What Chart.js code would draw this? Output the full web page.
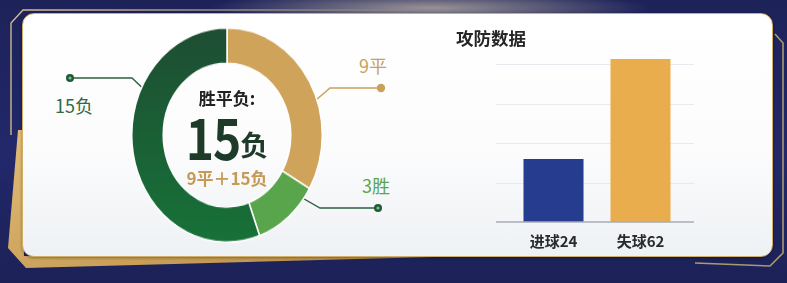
<!DOCTYPE html>
<html>
<head>
<meta charset="utf-8">
<script src="https://cdn.jsdelivr.net/npm/chart.js@4.4.0/dist/chart.umd.min.js"></script>
<style>
  html, body { margin: 0; padding: 0; }
  body {
    width: 787px; height: 283px; overflow: hidden; position: relative;
    background: radial-gradient(ellipse 220px 18px at 430px 8px, rgba(255,240,200,0.55), rgba(255,240,200,0) 100%),
                linear-gradient(180deg, #1d2259 0%, #22286a 55%, #1c2157 100%);
    font-family: "Noto Sans CJK SC", "Noto Sans", sans-serif;
  }
  .abs { position: absolute; }
  #deco { position: absolute; left: 0; top: 0; }
  .card {
    left: 22px; top: 13px; width: 749px; height: 242px;
    border: 1.5px solid #cfae6a; border-radius: 12px;
    background: linear-gradient(180deg, #ffffff 0%, #fcfcfd 55%, #eef1f4 100%);
    box-shadow: 0 1px 3px rgba(0,0,0,0.35);
  }
  #donutWrap { left: 131px; top: 39px; width: 192px; height: 192px; transform: scaleY(1.125); transform-origin: 50% 50%; }
  #barWrap { left: 496px; top: 30px; width: 198px; height: 222px; }
  .lbl { font-size: 18px; line-height: 18px; white-space: nowrap; }
  .center { width: 120px; left: 167px; text-align: center; white-space: nowrap; }
</style>
</head>
<body>
<svg id="deco" width="787" height="283">
  <defs>
    <linearGradient id="goldFill" x1="0" y1="0" x2="1" y2="1">
      <stop offset="0" stop-color="#e2bd76"/>
      <stop offset="1" stop-color="#b98c47"/>
    </linearGradient>
    <linearGradient id="sep" x1="0" y1="0" x2="0" y2="1">
      <stop offset="0" stop-color="#c9a45c" stop-opacity="0"/>
      <stop offset="0.5" stop-color="#c9a45c" stop-opacity="1"/>
      <stop offset="1" stop-color="#c9a45c" stop-opacity="0"/>
    </linearGradient>
    <linearGradient id="topLine" x1="0" y1="0" x2="1" y2="0">
      <stop offset="0" stop-color="#d8c190" stop-opacity="1"/>
      <stop offset="0.6" stop-color="#d8c190" stop-opacity="0.6"/>
      <stop offset="1" stop-color="#d8c190" stop-opacity="0"/>
    </linearGradient>
  </defs>
  <polygon points="18,130 24,130 24,256 470,256 26,268 8,248" fill="url(#goldFill)"/>
  <path d="M11,135 L11,23 L23,10 L420,10" fill="none" stroke="url(#topLine)" stroke-width="1.3"/>
  <path d="M775,34 L783,43 L783,253 L770,266 L695,263" fill="none" stroke="#a99a6f" stroke-width="1.6"/>
</svg>

<div class="abs card"></div>

<svg class="abs" style="left:0;top:0" width="787" height="283">
  <line x1="444" y1="55" x2="444" y2="235" stroke="url(#sep)" stroke-width="1.5"/>
  <!-- leader lines -->
  <polyline points="152,97 132,78 72,78" fill="none" stroke="#2e5e40" stroke-width="1.4"/>
  <circle cx="70" cy="78" r="4" fill="#1f5a36"/><circle cx="70" cy="78" r="1.6" fill="#7fbf7f"/>
  <polyline points="316,100 330,88 380,88" fill="none" stroke="#c9a05a" stroke-width="1.4"/>
  <circle cx="381" cy="88" r="4.2" fill="#c9a05a"/>
  <polyline points="292,192 320,208 376,208" fill="none" stroke="#2e5e40" stroke-width="1.4"/>
  <circle cx="378" cy="208" r="4" fill="#1f5a36"/><circle cx="378" cy="208" r="1.6" fill="#7fbf7f"/>
</svg>

<div id="donutWrap" class="abs"><canvas id="donut"></canvas></div>
<div id="barWrap" class="abs"><canvas id="bars"></canvas></div>

<div class="abs lbl" style="left:55px;top:96px;color:#2d6a45;">15负</div>
<div class="abs lbl" style="left:359px;top:56px;color:#c9a05a;">9平</div>
<div class="abs lbl" style="left:362px;top:176px;color:#5ba54b;">3胜</div>

<div class="abs center" style="top:88px;font-size:17px;line-height:20px;font-weight:bold;color:#222;">胜平负:</div>
<div class="abs center" style="top:110px;line-height:50px;font-weight:bold;color:#1e3b2a;">
  <span style="display:inline-block;font-size:48px;letter-spacing:-1px;transform:scaleY(1.18);">15</span><span style="font-size:28px;">负</span>
</div>
<div class="abs center" style="top:168px;font-size:17px;line-height:20px;font-weight:bold;color:#c49a55;">9平＋15负</div>

<div class="abs" style="left:456px;top:28px;font-size:17.5px;line-height:20px;font-weight:bold;color:#262626;">攻防数据</div>

<script>
// donut data
var resultLabels = ['平', '胜', '负'];
var resultValues = [9, 3, 15];
var resultColors = ['#cfa35a', '#58a54b', '#1e5a36'];

// bar data
var statLabels = ['进球24', '失球62'];
var statValues = [24, 62];
var statColors = ['#253c8f', '#eaad4e'];
var gridValues = [15, 30, 45, 60];

new Chart(document.getElementById('donut'), {
  type: 'doughnut',
  data: {
    labels: resultLabels,
    datasets: [{
      data: resultValues,
      backgroundColor: function(c) {
        if (c.dataIndex === 2 && c.chart.chartArea) {
          var a = c.chart.chartArea;
          var g = c.chart.ctx.createLinearGradient(0, a.top, 0, a.bottom);
          g.addColorStop(0, '#1e4d33');
          g.addColorStop(1, '#177238');
          return g;
        }
        return resultColors[c.dataIndex];
      },
      borderColor: '#ffffff',
      borderWidth: 1.5
    }]
  },
  options: {
    responsive: true,
    maintainAspectRatio: false,
    animation: false,
    cutout: '67%',
    plugins: { legend: { display: false }, tooltip: { enabled: false } }
  }
});

var wideGrid = {
  id: 'wideGrid',
  beforeDatasetsDraw: function(chart) {
    var ctx = chart.ctx, a = chart.chartArea, y = chart.scales.y;
    ctx.save();
    ctx.strokeStyle = '#e6eaee';
    ctx.lineWidth = 1.2;
    gridValues.forEach(function(v) {
      var py = Math.round(y.getPixelForValue(v)) + 0.5;
      ctx.beginPath(); ctx.moveTo(a.left - 14, py); ctx.lineTo(a.right + 10, py); ctx.stroke();
    });
    ctx.restore();
  },
  afterDatasetsDraw: function(chart) {
    var ctx = chart.ctx, a = chart.chartArea, y = chart.scales.y;
    var py = y.getPixelForValue(0);
    ctx.save();
    ctx.strokeStyle = '#a8adb4';
    ctx.lineWidth = 1.5;
    ctx.beginPath(); ctx.moveTo(a.left - 14, py); ctx.lineTo(a.right + 10, py); ctx.stroke();
    ctx.restore();
  }
};

new Chart(document.getElementById('bars'), {
  type: 'bar',
  data: {
    labels: statLabels,
    datasets: [{
      data: statValues,
      backgroundColor: statColors,
      barPercentage: 0.69,
      categoryPercentage: 1
    }]
  },
  options: {
    responsive: true,
    maintainAspectRatio: false,
    animation: false,
    layout: { padding: { left: 14, right: 10, top: 8, bottom: 0 } },
    scales: {
      x: {
        grid: { display: false },
        border: { display: false },
        ticks: { color: '#2a2a2a', padding: 2, font: { family: 'Noto Sans CJK SC', size: 15, weight: 'bold' } }
      },
      y: { display: false, min: 0, max: 70 }
    },
    plugins: { legend: { display: false }, tooltip: { enabled: false } }
  },
  plugins: [wideGrid]
});
</script>
</body>
</html>
